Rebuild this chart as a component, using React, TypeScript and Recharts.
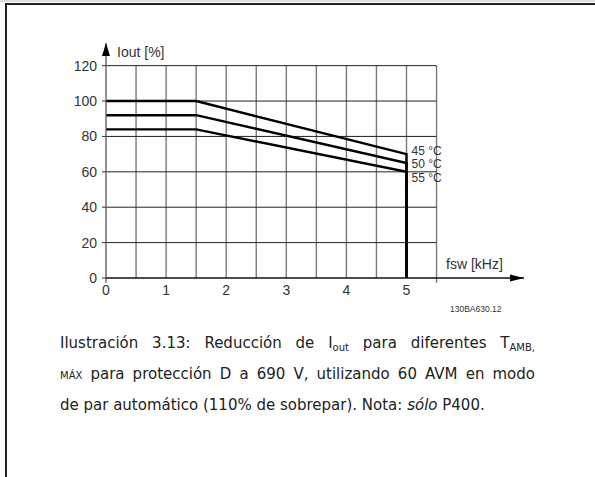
import { LineChart, Line, XAxis, YAxis, ReferenceLine, ReferenceDot, LabelList } from 'recharts';

// switching frequency (kHz) of the curve break points
const fsw = [0, 1.5, 5, 5];
// output current (%) per ambient temperature
const iout45 = [100, 100, 70, 0];
const iout50 = [92, 92, 65, 0];
const iout55 = [84, 84, 60, 0];
const tempLabels = ['45 °C', '50 °C', '55 °C'];

const xTicks = [0, 1, 2, 3, 4, 5];
const yTicks = [0, 20, 40, 60, 80, 100, 120];
const xGrid = [0.5, 1, 1.5, 2, 2.5, 3, 3.5, 4, 4.5, 5, 5.5];
const yGrid = [20, 40, 60, 80, 100, 120];
const xMax = 6.955;
const yMax = 132.8;

const toData = (vals: number[]) => fsw.map((x, i) => ({ x, y: vals[i] }));

const series = [
  { key: '45', data: toData(iout45), label: tempLabels[0], dy: -3.5 },
  { key: '50', data: toData(iout50), label: tempLabels[1], dy: 1.5 },
  { key: '55', data: toData(iout55), label: tempLabels[2], dy: 6.5 },
];

const chartFont = '"Liberation Sans", Arial, sans-serif';
const capFont = '"DejaVu Sans", Verdana, sans-serif';

const sub = { fontSize: 10, position: 'relative', top: 3 } as const;
const line = { height: 31, whiteSpace: 'nowrap' } as const;

export default function App() {
  return (
    <div style={{ position: 'absolute', left: 0, top: 0, width: 595, height: 477, background: '#fff' }}>
      <div style={{ position: 'absolute', left: 0, top: 0, width: 595, height: 2, background: '#ddd' }} />
      <div style={{ position: 'absolute', left: 5, top: 3, width: 590, height: 474, borderTop: '2px solid #222', borderLeft: '2px solid #222' }} />
      <LineChart
        width={595}
        height={477}
        margin={{ top: 43, right: 71, bottom: 169, left: 46 }}
        style={{ position: 'absolute', left: 0, top: 0, fontFamily: chartFont }}
      >
        <XAxis
          type="number"
          dataKey="x"
          domain={[0, xMax]}
          ticks={xTicks}
          allowDataOverflow
          height={30}
          tickLine={false}
          tickSize={6}
          tickMargin={1}
          axisLine={{ stroke: '#111', strokeWidth: 1.3 }}
          tick={{ fill: '#333', fontSize: 14 }}
        />
        <YAxis
          type="number"
          domain={[0, yMax]}
          ticks={yTicks}
          allowDataOverflow
          width={60}
          tickSize={4}
          tickMargin={5}
          tickLine={{ stroke: '#333' }}
          axisLine={{ stroke: '#555', strokeWidth: 1.3 }}
          tick={{ fill: '#333', fontSize: 14 }}
        />
        {xGrid.map((g) => (
          <ReferenceLine
            key={'vx' + g}
            segment={[{ x: g, y: g === 5.5 ? -2.7 : 0 }, { x: g, y: 120 }]}
            stroke="#7a7a7a"
            strokeWidth={1.4}
            ifOverflow="visible"
          />
        ))}
        <ReferenceLine segment={[{ x: 0, y: -2.7 }, { x: 0, y: 0 }]} stroke="#555" strokeWidth={1.3} ifOverflow="visible" />
        {yGrid.map((g) => (
          <ReferenceLine key={'hy' + g} segment={[{ x: 0, y: g }, { x: 5.5, y: g }]} stroke="#222" strokeWidth={1} />
        ))}
        {series.map((s) => (
          <Line
            key={s.key}
            data={s.data}
            dataKey="y"
            type="linear"
            stroke="#000"
            strokeWidth={2.4}
            dot={false}
            isAnimationActive={false}
          >
            <LabelList
              dataKey="y"
              content={(p: any) =>
                p.index === 2 ? (
                  <text x={p.x + 5} y={p.y + s.dy} dominantBaseline="central" fontSize={12} fill="#333" fontFamily={chartFont}>
                    {s.label}
                  </text>
                ) : null
              }
            />
          </Line>
        ))}
        <ReferenceDot
          x={0}
          y={yMax}
          r={0}
          ifOverflow="visible"
          shape={(p: any) => <path d={`M${p.cx},${p.cy} l-4,13 l8,0 z`} fill="#000" />}
        />
        <ReferenceDot
          x={xMax}
          y={0}
          r={0}
          ifOverflow="visible"
          shape={(p: any) => <path d={`M${p.cx},${p.cy} l-14,-3.5 l0,7 z`} fill="#000" />}
        />
        <text x={117} y={52} dominantBaseline="central" fontSize={14} fill="#333">Iout [%]</text>
        <text x={446} y={264} dominantBaseline="central" fontSize={14} fill="#333">fsw [kHz]</text>
        <text x={450} y={309} dominantBaseline="central" fontSize={8.5} fill="#333">130BA630.12</text>
      </LineChart>
      <div
        style={{
          position: 'absolute',
          left: 60,
          top: 328,
          width: 475,
          fontFamily: capFont,
          fontSize: 15,
          lineHeight: '31px',
          color: '#222',
        }}
      >
        <div style={{ ...line, textAlign: 'justify', textAlignLast: 'justify', whiteSpace: 'normal' }}>
          Ilustración 3.13: Reducción de I<span style={sub}>out</span> para diferentes T<span style={sub}>AMB,</span>
        </div>
        <div style={{ ...line, textAlign: 'justify', textAlignLast: 'justify', whiteSpace: 'normal' }}>
          <span style={{ fontSize: 10 }}>MÁX</span> para protección D a 690 V, utilizando 60 AVM en modo
        </div>
        <div style={line}>
          de par automático (110% de sobrepar). Nota: <i>sólo</i> P400.
        </div>
      </div>
    </div>
  );
}
